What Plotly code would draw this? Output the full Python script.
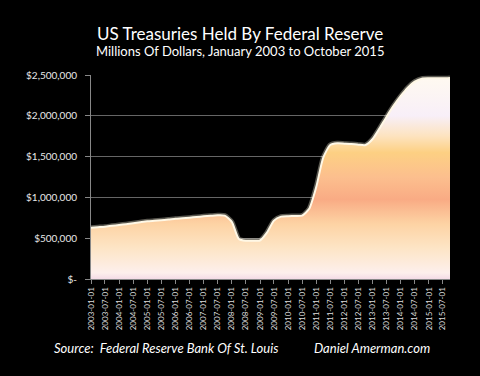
import plotly.graph_objects as go

dates = [
    "2003-01-01","2003-04-01","2003-07-01","2003-10-01",
    "2004-01-01","2004-04-01","2004-07-01","2004-10-01",
    "2005-01-01","2005-04-01","2005-07-01","2005-10-01",
    "2006-01-01","2006-04-01","2006-07-01","2006-10-01",
    "2007-01-01","2007-04-01","2007-07-01","2007-10-01",
    "2008-01-01","2008-04-01","2008-07-01","2008-10-01",
    "2009-01-01","2009-04-01","2009-07-01","2009-10-01",
    "2010-01-01","2010-04-01","2010-07-01","2010-10-01",
    "2011-01-01","2011-04-01","2011-07-01","2011-10-01",
    "2012-01-01","2012-04-01","2012-07-01","2012-10-01",
    "2013-01-01","2013-04-01","2013-07-01","2013-10-01",
    "2014-01-01","2014-04-01","2014-07-01","2014-10-01",
    "2015-01-01","2015-04-01","2015-07-01","2015-10-01",
]
treasuries = [
    629000, 635000, 641000, 652000,
    662000, 672000, 682000, 695000,
    707000, 713000, 719000, 728000,
    739000, 745000, 752000, 760000,
    768000, 774000, 780000, 776000,
    700000, 490000, 468000, 470000,
    472000, 568000, 715000, 764000,
    770000, 772000, 777000, 860000,
    1130000, 1487000, 1642000, 1663000,
    1659000, 1655000, 1646000, 1642000,
    1716000, 1846000, 1989000, 2124000,
    2243000, 2345000, 2418000, 2455000,
    2459000, 2459000, 2459000, 2463000,
]

y_tickvals = [0, 500000, 1000000, 1500000, 2000000, 2500000]
y_ticktext = ["$-", "$500,000", "$1,000,000", "$1,500,000", "$2,000,000", "$2,500,000"]

x_tickvals = [f"{y}-{m}-01" for y in range(2003, 2016) for m in ("01", "07")]
x_ticktext = x_tickvals

title = "US Treasuries Held By Federal Reserve"
subtitle = "Millions Of Dollars, January 2003 to October 2015"
source = "Source:  Federal Reserve Bank Of St. Louis"
credit = "Daniel Amerman.com"

FONT = "Lato"

fig = go.Figure()
fig.add_trace(go.Scatter(
    x=dates, y=treasuries, mode="lines",
    line=dict(color="rgba(255,250,225,0.35)", width=5, shape="spline", smoothing=0.6),
    hoverinfo="skip", showlegend=False,
))
fig.add_trace(go.Scatter(
    x=dates, y=treasuries, mode="lines", fill="tozeroy",
    line=dict(color="#fff8e6", width=2, shape="spline", smoothing=0.6),
    fillgradient=dict(
        type="vertical", start=0, stop=2500000,
        colorscale=[
            [0.0, "#f4dbe6"], [0.03, "#fdefec"], [0.15, "#fde5c6"],
            [0.27, "#fdd3a4"], [0.39, "#f9ab84"], [0.5, "#fcbf8e"],
            [0.62, "#fdd083"], [0.7, "#fde3bf"], [0.8, "#f8eff8"],
            [1.0, "#fffaf0"],
        ],
    ),
    showlegend=False,
))

fig.update_layout(
    width=480, height=376,
    paper_bgcolor="black", plot_bgcolor="black",
    margin=dict(l=91, r=30, t=75, b=97),
    font=dict(family=FONT, color="#e8e8e8"),
    xaxis=dict(
        type="date", range=["2003-01-01", "2015-10-01"],
        tickvals=x_tickvals, ticktext=x_ticktext, tickangle=-90,
        tickfont=dict(size=8, color="#dddddd"),
        ticks="outside", ticklen=4, tickcolor="#888888",
        showgrid=False, showline=True, linecolor="#888888", linewidth=1,
        zeroline=False,
    ),
    yaxis=dict(
        range=[0, 2500000], tickvals=y_tickvals, ticktext=y_ticktext,
        tickfont=dict(size=10, color="#e8e8e8"),
        ticks="outside", ticklen=5, tickcolor="#888888",
        ticklabelstandoff=6,
        showgrid=True, gridcolor="#666666", gridwidth=1,
        showline=True, linecolor="#888888", linewidth=1,
        zeroline=False,
    ),
)
H_plot = 376 - 75 - 97
W_plot = 480 - 91 - 30
def py(px):
    return (376 - 97 - px) / H_plot
def pxx(px):
    return (px - 91) / W_plot
fig.add_annotation(text=title, x=pxx(240), y=py(33), xref="paper", yref="paper",
                   showarrow=False, font=dict(size=17, color="white", family=FONT),
                   xanchor="center", yanchor="middle")
fig.add_annotation(text=subtitle, x=pxx(240), y=py(51), xref="paper", yref="paper",
                   showarrow=False, font=dict(size=13, color="white", family=FONT),
                   xanchor="center", yanchor="middle")
fig.add_annotation(text=f"<i>{source}</i>", x=pxx(52), y=py(348), xref="paper", yref="paper",
                   showarrow=False, font=dict(size=13, color="white", family=FONT),
                   xanchor="left", yanchor="middle")
fig.add_annotation(text=f"<i>{credit}</i>", x=pxx(312), y=py(348), xref="paper", yref="paper",
                   showarrow=False, font=dict(size=13, color="white", family=FONT),
                   xanchor="left", yanchor="middle")

fig.write_html(
    "out.html",
    config={"displayModeBar": False},
    post_script="document.body.style.margin='0';document.body.style.background='black';",
)
